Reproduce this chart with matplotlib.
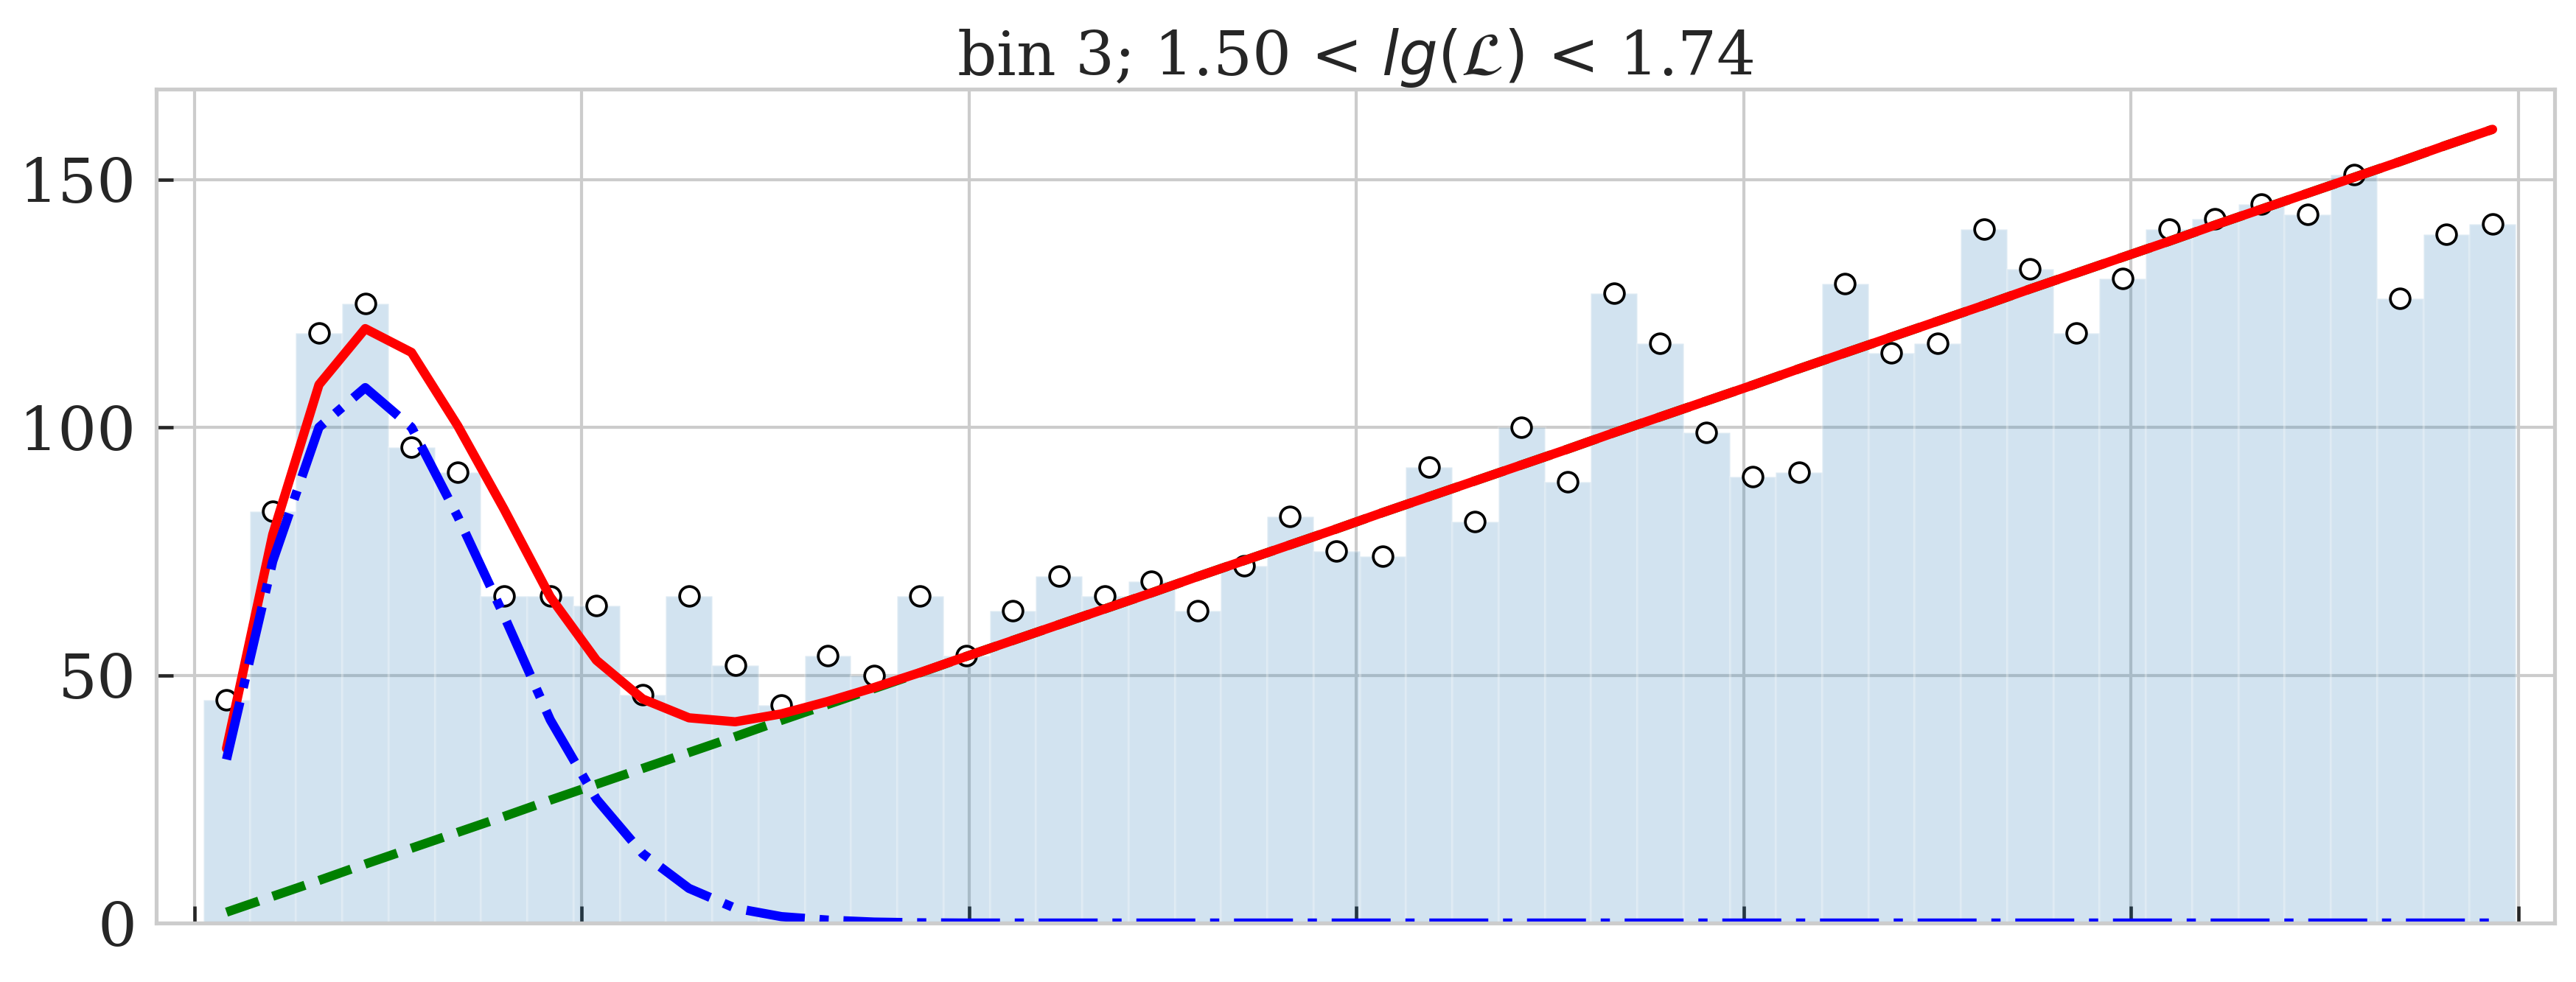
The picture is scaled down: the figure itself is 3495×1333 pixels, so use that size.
import numpy as np
import matplotlib.pyplot as plt

# histogram counts per bin
counts = [45, 83, 119, 125, 96, 91, 66, 66, 64, 46,
          66, 52, 44, 54, 50, 66, 54, 63, 70, 66,
          69, 63, 72, 82, 75, 74, 92, 81, 100, 89,
          127, 117, 99, 90, 91, 129, 115, 117, 140, 132,
          119, 130, 140, 142, 145, 143, 151, 126, 139, 141]

# fitted components at bin centres
gauss = [33, 73, 100, 108, 100, 82, 62, 41, 25, 14,
         7, 3, 1.3, 0.6, 0.2, 0.05, 0, 0, 0, 0,
         0, 0, 0, 0, 0, 0, 0, 0, 0, 0,
         0, 0, 0, 0, 0, 0, 0, 0, 0, 0,
         0, 0, 0, 0, 0, 0, 0, 0, 0, 0]
linear = [2.2, 5.4, 8.6, 11.9, 15.1, 18.3, 21.5, 24.8, 28.0, 31.2,
          34.4, 37.6, 40.9, 44.1, 47.3, 50.5, 53.8, 57.0, 60.2, 63.4,
          66.6, 69.9, 73.1, 76.3, 79.5, 82.8, 86.0, 89.2, 92.4, 95.6,
          98.9, 102.1, 105.3, 108.5, 111.8, 115.0, 118.2, 121.4, 124.6, 127.9,
          131.1, 134.3, 137.5, 140.8, 144.0, 147.2, 150.4, 153.6, 156.9, 160.1]

x_lo, x_hi = 0.023, 5.993
xticks = [0, 1, 2, 3, 4, 5, 6]
yticks = [0, 50, 100, 150]
title = r'bin 3; 1.50 < $lg(\mathcal{L})$ < 1.74'

edges = np.linspace(x_lo, x_hi, len(counts) + 1)
centers = 0.5 * (edges[:-1] + edges[1:])
total = np.array(gauss) + np.array(linear)

plt.rcParams['font.family'] = 'DejaVu Serif'
plt.rcParams['lines.solid_capstyle'] = 'round'

fig, ax = plt.subplots(figsize=(3495 / 300, 1333 / 300), dpi=300)
fig.subplots_adjust(left=0.0607, right=0.9917, bottom=0.0600, top=0.9092)

ax.set_axisbelow(True)
ax.grid(True, color='#cccccc', linewidth=1.0)

ax.bar(centers, counts, width=np.diff(edges), color='C0', alpha=0.2,
       edgecolor='white', linewidth=0.8)
ax.plot(centers, counts, 'o', mfc='white', mec='black', ms=6.4, mew=0.9)

ax.plot(centers, linear, color='green', lw=3, ls='--')
ax.plot(centers, total, color='red', lw=3)
ax.plot(centers, gauss, color='blue', lw=3, ls='-.')

ax.set_xlim(-0.0984, 6.0935)
ax.set_ylim(0, 168.2)
ax.set_xticks(xticks)
ax.set_yticks(yticks)

for sp in ax.spines.values():
    sp.set_color('#cccccc')
    sp.set_linewidth(1.25)

ax.tick_params(direction='in', length=5.5, width=1.1, color='#262626',
               labelsize=20, labelcolor='#262626', pad=6.5)
ax.tick_params(axis='x', labelbottom=False)

ax.set_title(title, fontsize=20, color='#262626', pad=4)

fig.savefig('out.png', dpi=300)
